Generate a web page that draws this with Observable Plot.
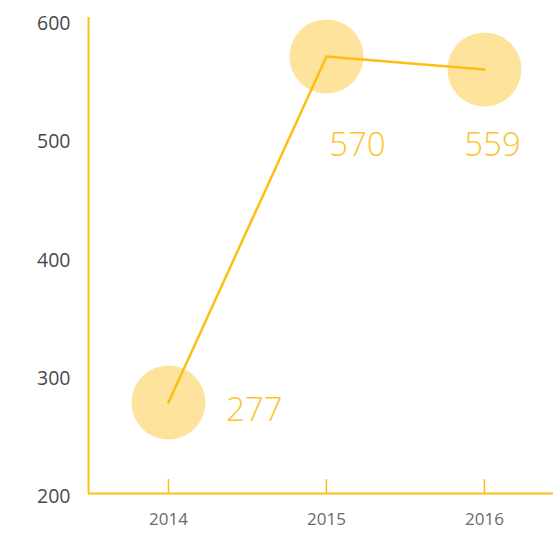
<!DOCTYPE html>
<html>
<head>
<meta charset="utf-8">
<script src="https://cdn.jsdelivr.net/npm/d3@7"></script>
<script src="https://cdn.jsdelivr.net/npm/@observablehq/plot@0.6"></script>
<style>
  html, body { margin: 0; padding: 0; background: #fff; }
  #chart svg { display: block; }
</style>
</head>
<body>
<div id="chart"></div>
<script>
const years = [2014, 2015, 2016];
const values = [277, 570, 559];
const yTicks = [200, 300, 400, 500, 600];
const xTicks = [2014, 2015, 2016];

const data = years.map((year, i) => ({year, value: values[i]}));

const yellow = "#FBBF14";
const circleFill = "#FDE39B";
const labelColor = "#FAC530";

// per-point label offsets (styling)
const labelStyle = [
  {dx: 86, dy: 8},
  {dx: 31, dy: 89},
  {dx: 8, dy: 76}
];

const W = 553, H = 536;
const chart = Plot.plot({
  width: W,
  height: H,
  marginLeft: 88,
  marginRight: 0,
  marginTop: 17,
  marginBottom: 43,
  style: {fontFamily: "'Open Sans', 'Noto Sans', sans-serif", background: "#fff", overflow: "visible"},
  x: {type: "linear", domain: [2013.494, 2016.437]},
  y: {domain: [200, 603]},
  marks: [
    Plot.axisY({ticks: yTicks, tickSize: 0, tickPadding: 18, fontSize: 19.5, fill: "#4a4a4a", dy: 3, label: null}),
    Plot.axisX({ticks: xTicks, tickSize: 0, tickPadding: 19, fontSize: 17, fill: "#6a6a6a", tickFormat: d3.format("d"), label: null}),
    Plot.ruleX(xTicks, {x: d => d, insetTop: 462, stroke: yellow, strokeWidth: 1.5}),
    Plot.dot(data, {x: "year", y: "value", r: 37, fill: circleFill, stroke: "none"}),
    Plot.line(data, {x: "year", y: "value", stroke: yellow, strokeWidth: 2.5}),
    Plot.ruleY([200], {stroke: yellow, strokeWidth: 2}),
    Plot.ruleX([2013.494], {stroke: yellow, strokeWidth: 2}),
    ...data.map((d, i) => Plot.text([d], {
      x: "year", y: "value", text: dd => String(dd.value),
      dx: labelStyle[i].dx, dy: labelStyle[i].dy,
      fill: labelColor, fontSize: 33, fontWeight: 300,
      textAnchor: "middle", lineAnchor: "middle"
    }))
  ]
});
document.getElementById("chart").appendChild(chart);
</script>
</body>
</html>
